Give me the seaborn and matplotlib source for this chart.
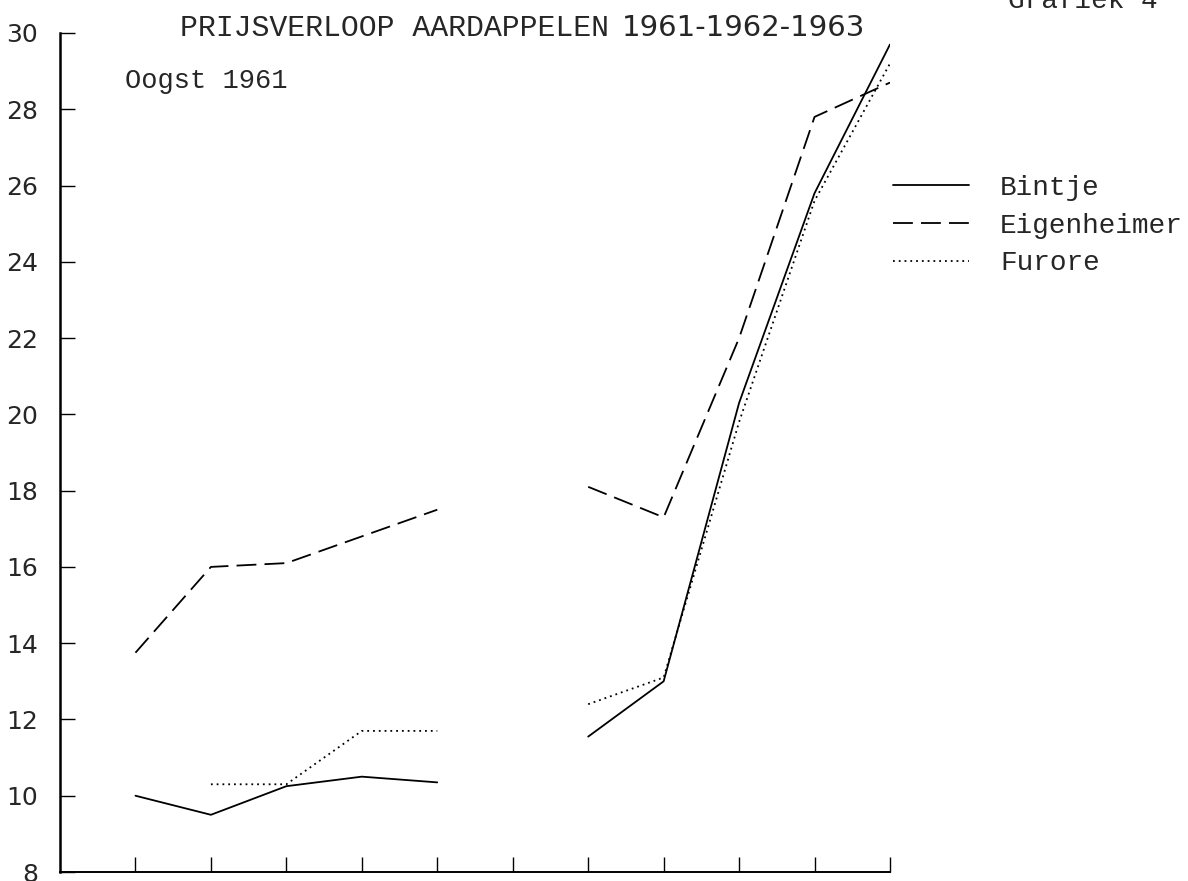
# potato price chart, harvest 1961 (scan of grafiek)
import seaborn as sns
import matplotlib.pyplot as plt
import numpy as np
import pandas as pd

# periods along the x axis (ticks 1..11, no labels in the original)
periods = [1, 2, 3, 4, 5, 6, 7, 8, 9, 10, 11]
# which harvest block a period belongs to (gap at period 6)
block = ["a", "a", "a", "a", "a", "gap", "b", "b", "b", "b", "b"]

bintje = [10.0, 9.5, 10.25, 10.5, 10.35, np.nan, 11.55, 13.0, 20.3, 25.8, 29.7]
eigenheimer = [13.75, 16.0, 16.1, 16.8, 17.5, np.nan, 18.1, 17.3, 22.0, 27.8, 28.7]
furore = [np.nan, 10.3, 10.3, 11.7, 11.7, np.nan, 12.4, 13.1, 19.8, 25.6, 29.2]

rassen = ["Bintje", "Eigenheimer", "Furore"]
y_ticks = [8, 10, 12, 14, 16, 18, 20, 22, 24, 26, 28, 30]


def graph_prices():
    df = pd.DataFrame({
        "periode": periods * 3,
        "blok": block * 3,
        "ras": np.repeat(rassen, len(periods)),
        "prijs": bintje + eigenheimer + furore,
    })
    df = df.dropna()

    sns.set_style("white")
    plt.rcParams["font.family"] = ["DejaVu Sans"]
    mono = "Liberation Mono"

    fig = plt.figure(figsize=(11.88, 8.81), dpi=100)
    ax = fig.add_axes([60 / 1188, 9 / 881, 830 / 1188, 839 / 881])

    sns.lineplot(data=df, x="periode", y="prijs", hue="ras", style="ras",
                 units="blok", estimator=None, sort=True,
                 palette=["black", "black", "black"],
                 dashes={"Bintje": "", "Eigenheimer": (11, 4.5), "Furore": (1, 2.2)},
                 linewidth=1.3, ax=ax)

    ax.set_xlim(0, 11)
    ax.set_ylim(8, 30)
    ax.set_xticks(periods)
    ax.set_yticks(y_ticks)
    ax.set_xlabel("")
    ax.set_ylabel("")
    ax.tick_params(axis="x", direction="in", length=11, width=1, bottom=True,
                   labelbottom=False, color="black")
    ax.tick_params(axis="y", direction="in", length=11, width=1, left=True,
                   labelsize=18, pad=16, color="black")
    sns.despine(ax=ax)
    ax.spines["left"].set_linewidth(1.8)
    ax.spines["bottom"].set_linewidth(1.4)
    ax.spines["left"].set_color("black")
    ax.spines["bottom"].set_color("black")
    ax.patch.set_alpha(0)

    # legend to the right of the axes
    sns.move_legend(ax, loc="upper left", bbox_to_anchor=(893 / 1188, 1 - 175 / 881),
                    bbox_transform=fig.transFigure, frameon=False, title=None,
                    handlelength=2.75, handletextpad=1.1, labelspacing=0.42,
                    borderaxespad=0, borderpad=0, prop={"family": mono, "size": 20})

    # texts
    fig.text(180 / 1188, 1 - 28 / 881, "PRIJSVERLOOP AARDAPPELEN", family=mono,
             fontsize=21.5, ha="left", va="center")
    fig.text(622 / 1188, 1 - 28 / 881, "1961-1962-1963", fontsize=21,
             ha="left", va="center")
    fig.text(125 / 1188, 1 - 81 / 881, "Oogst 1961", family=mono, fontsize=19.5,
             ha="left", va="center")
    fig.text(1008 / 1188, 1 - 8 / 881, "Grafiek 4", family=mono, fontsize=20,
             ha="left", va="baseline")

    fig.savefig("out.png", dpi=100)


graph_prices()
